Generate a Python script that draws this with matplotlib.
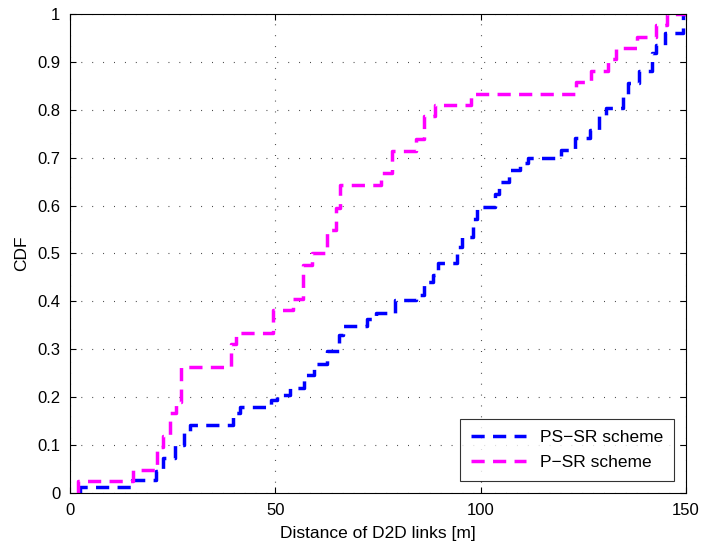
import matplotlib
matplotlib.use("Agg")
import matplotlib.pyplot as plt
import numpy as np

plt.rcParams['font.family'] = ['Liberation Sans', 'DejaVu Sans']

# PS-SR scheme: step locations (m) and CDF level after each step
ps_x = [2.4, 15.0, 21.0, 22.7, 25.6, 27.8, 29.2, 39.7, 41.5, 49.0, 50.5, 53.5, 57.0,
        59.5, 62.6, 65.5, 66.5, 72.3, 74.5, 79.1, 84.2, 86.2, 88.5, 89.5, 94.2, 95.5,
        98.1, 99.0, 103.5, 104.5, 107.0, 109.5, 111.5, 119.5, 123.0, 126.6, 128.8,
        130.5, 134.6, 136.0, 138.6, 141.7, 142.8, 145.0, 149.3]
ps_y = [0.012, 0.027, 0.046, 0.073, 0.100, 0.127, 0.142, 0.167, 0.180, 0.194, 0.205,
        0.219, 0.246, 0.270, 0.296, 0.330, 0.349, 0.363, 0.376, 0.403, 0.414, 0.440,
        0.455, 0.480, 0.513, 0.534, 0.572, 0.597, 0.624, 0.649, 0.674, 0.689, 0.700,
        0.716, 0.741, 0.758, 0.789, 0.804, 0.831, 0.856, 0.881, 0.918, 0.935, 0.960, 1.0]

# P-SR scheme
p_x = [2.0, 15.3, 21.2, 22.6, 24.3, 25.8, 27.0, 39.2, 40.5, 49.5, 54.3, 56.7, 59.0,
       62.6, 64.8, 65.7, 75.7, 78.4, 84.3, 86.2, 88.9, 97.6, 123.2, 126.9, 131.0,
       133.0, 138.0, 142.7, 145.4]
p_y = [0.024, 0.048, 0.095, 0.119, 0.167, 0.190, 0.262, 0.310, 0.333, 0.381, 0.405,
       0.476, 0.500, 0.548, 0.595, 0.643, 0.667, 0.714, 0.738, 0.786, 0.810, 0.833,
       0.857, 0.881, 0.905, 0.929, 0.952, 0.976, 1.0]

labels = ["PS\u2212SR scheme", "P\u2212SR scheme"]
yticklabels = ["0", "0.1", "0.2", "0.3", "0.4", "0.5", "0.6", "0.7", "0.8", "0.9", "1"]

fig = plt.figure(figsize=(7.08, 5.48), dpi=100)
ax = fig.add_axes([0.0989, 0.1004, 0.8700, 0.8741])

def stepxy(xs, ys):
    X = [xs[0]] + list(xs)
    Y = [0.0] + list(ys)
    X.append(150)
    Y.append(ys[-1])
    return X, Y

dash = (0, (3.8, 2.4))
X1, Y1 = stepxy(ps_x, ps_y)
X2, Y2 = stepxy(p_x, p_y)
ax.step(X1, Y1, where='post', color=(0, 0, 1), lw=2.5, ls=dash, label=labels[0])
ax.step(X2, Y2, where='post', color=(1, 0, 1), lw=2.5, ls=dash, label=labels[1])

ax.set_xlim(0, 150)
ax.set_ylim(0, 1)
ax.set_xticks([0, 50, 100, 150])
ax.set_yticks(np.arange(0, 1.01, 0.1))
ax.set_yticklabels(yticklabels)
ax.tick_params(direction='in', length=4, labelsize=12, top=True, right=True)
ax.tick_params(axis='x', pad=7)
ax.tick_params(axis='y', pad=7)
ax.grid(True, color='#333333', ls=(0, (0.8, 9)), lw=0.8)
for s in ax.spines.values():
    s.set_linewidth(0.8)
ax.set_xlabel("Distance of D2D links [m]", fontsize=12.5, labelpad=6)
ax.set_ylabel("CDF", fontsize=12.5, labelpad=6)

leg = ax.legend(loc='lower right', fontsize=12.5, frameon=True, fancybox=False,
                edgecolor='black', handlelength=3.2, borderaxespad=0.7,
                borderpad=0.6, labelspacing=0.6)
leg.get_frame().set_linewidth(0.8)

fig.savefig("out.png", dpi=100)
